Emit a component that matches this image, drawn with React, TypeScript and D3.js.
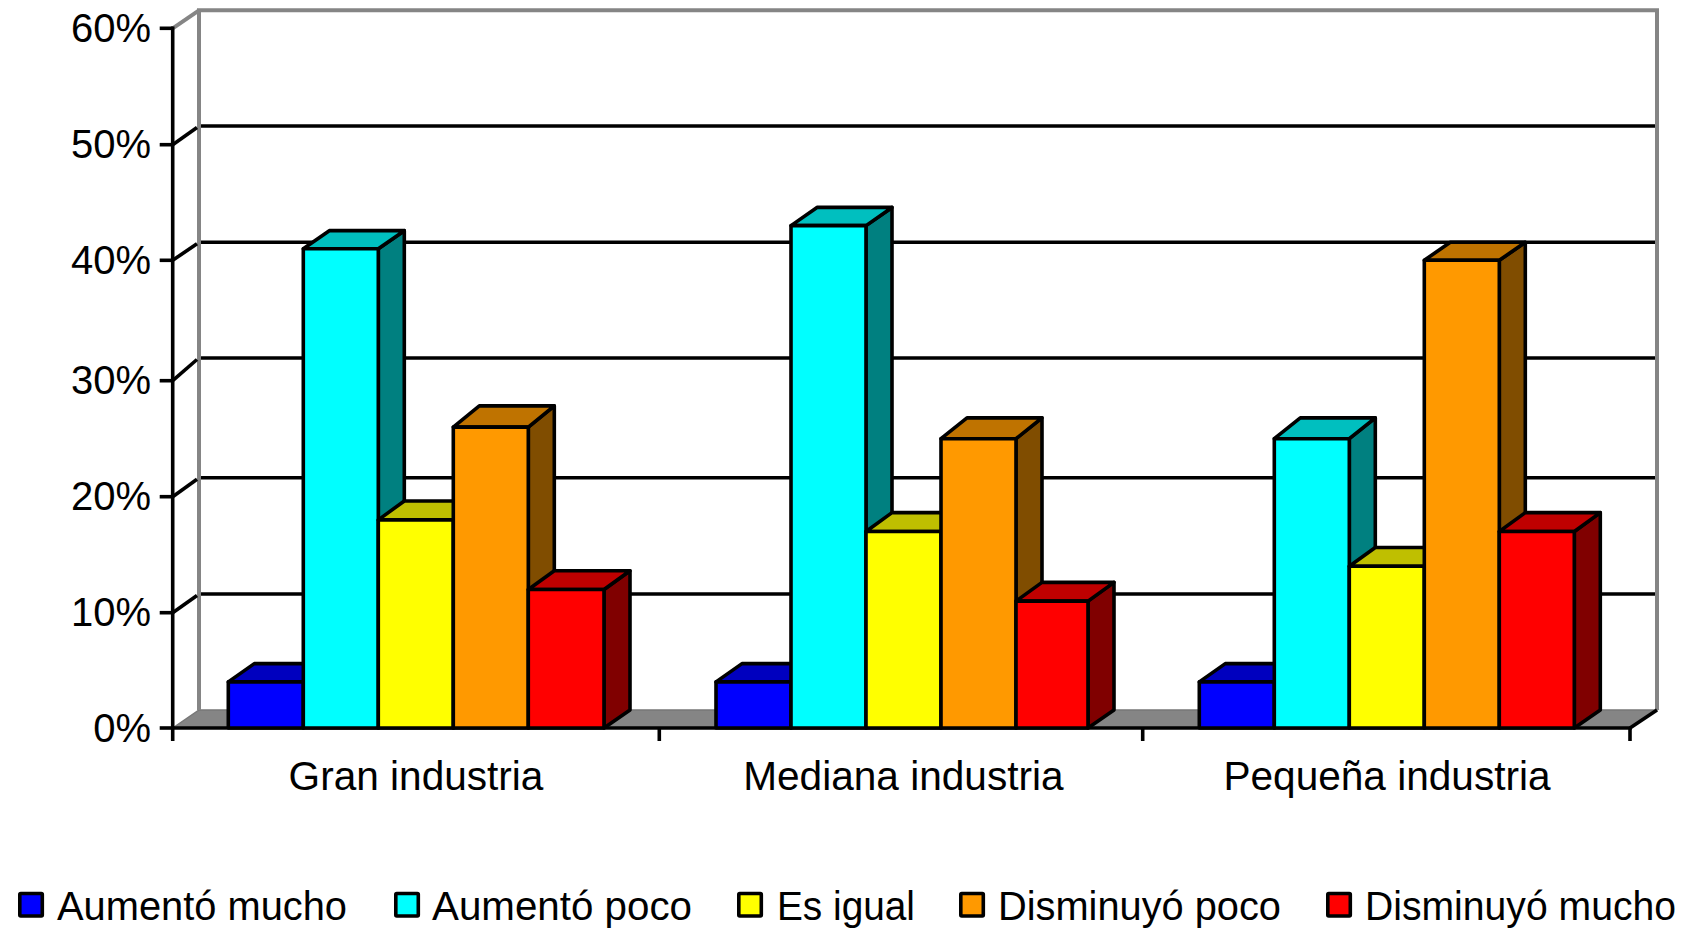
import React from "react";
import * as d3 from "d3";

const categories = ["Gran industria", "Mediana industria", "Pequeña industria"];
const seriesNames = ["Aumentó mucho", "Aumentó poco", "Es igual", "Disminuyó poco", "Disminuyó mucho"];
const aumentoMucho = [4, 4, 4];
const aumentoPoco = [41, 43, 25];
const esIgual = [18, 17, 14];
const disminuyoPoco = [26, 25, 40];
const disminuyoMucho = [12, 11, 17];
const seriesValues = [aumentoMucho, aumentoPoco, esIgual, disminuyoPoco, disminuyoMucho];
const frontColors = ["#0000ff", "#00ffff", "#ffff00", "#ff9900", "#ff0000"];
const tickValues = [0, 10, 20, 30, 40, 50, 60];

// layout
const W = 1692, H = 929;
const depthX = 26;
const x0 = 172.7, x1 = 1630;
const tickPixels = [728, 612.7, 496.7, 380.7, 260.3, 144.7, 28.3];
const gridPixels = [710, 594, 477.7, 358, 242.3, 126, 10.3];
const groupStarts = [228.3, 716, 1199.3];
const lastBarW = [75.7, 72, 75];
const barW = 75;
const axisTicksX = [659.3, 1142.7, 1630];
const categoryCenters = [416, 903.4, 1387];
const legendSwatchX = [18, 394, 737, 959, 1326];
const legendTextX = [57, 432, 777, 998, 1365];
const legendTextW = [290, 260, 138, 283, 311];

const FONT = "'Liberation Sans', Arial, sans-serif";
const GRAY = "#858585";
const SW = 3.6;

const y = d3.scaleLinear().domain(tickValues).range(tickPixels);
const yBack = d3.scaleLinear().domain(tickValues).range(gridPixels);
const groupX = d3.scaleOrdinal<string, number>().domain(categories).range(groupStarts);

const shade = (c: string, k: number) => {
  const r = d3.rgb(c);
  return d3.rgb(r.r * k, r.g * k, r.b * k).formatHex();
};
const pts = (a: number[][]) => a.map((p) => p.join(",")).join(" ");
const xBack = x0 + depthX + 0.3;
const xBackR = x1 + depthX + 1;

export default function App() {
  return (
    <svg
      width={W}
      height={H}
      viewBox={`0 0 ${W} ${H}`}
      style={{ position: "absolute", left: 0, top: 0, background: "#fff" }}
      fontFamily={FONT}
    >
      {/* floor and walls */}
      <polygon
        points={pts([[x0, y(0)], [xBack, yBack(0)], [xBackR, yBack(0)], [x1, y(0)]])}
        fill={GRAY}
        stroke="#777"
        strokeWidth={1.5}
      />
      <line x1={x0} y1={y(60)} x2={xBack} y2={yBack(60)} stroke={GRAY} strokeWidth={4} />
      <polyline
        points={pts([[xBack, yBack(0)], [xBack, yBack(60)], [xBackR, yBack(60)], [xBackR, yBack(0)]])}
        fill="none"
        stroke={GRAY}
        strokeWidth={4}
      />
      {/* gridlines */}
      {tickValues.slice(1, -1).map((t) => (
        <g key={t} stroke="#000" strokeWidth={SW}>
          <line x1={xBack + 2} x2={xBackR - 2} y1={yBack(t)} y2={yBack(t)} />
          <line x1={x0} x2={xBack - 2} y1={y(t)} y2={yBack(t) + 1.5} />
        </g>
      ))}
      <line x1={x1} y1={y(0)} x2={xBackR} y2={yBack(0)} stroke="#000" strokeWidth={SW} />
      {/* axes */}
      <line x1={x0} x2={x0} y1={y(60) - 1.8} y2={y(0) + 13} stroke="#000" strokeWidth={SW} />
      <line x1={x0} x2={x1 + 1.8} y1={y(0)} y2={y(0)} stroke="#000" strokeWidth={SW} />
      {tickValues.map((t) => (
        <g key={t}>
          <line x1={x0 - 13} x2={x0} y1={y(t)} y2={y(t)} stroke="#000" strokeWidth={SW} />
          <text x={151} y={y(t) + 13.5} textAnchor="end" fontSize={40} fill="#000">
            {t}%
          </text>
        </g>
      ))}
      {axisTicksX.map((tx) => (
        <line key={tx} x1={tx} x2={tx} y1={y(0)} y2={y(0) + 13} stroke="#000" strokeWidth={SW} />
      ))}
      {/* bars */}
      {categories.map((c, ci) => (
        <g key={c}>
          {seriesNames.map((s, si) => {
            const v = seriesValues[si][ci];
            const left = groupX(c) + si * barW;
            const right = left + (si === seriesNames.length - 1 ? lastBarW[ci] : barW);
            const top = y(v);
            const topBack = yBack(v);
            const base = y(0);
            const baseBack = yBack(0);
            const col = frontColors[si];
            return (
              <g key={s} stroke="#000" strokeWidth={SW} strokeLinejoin="round">
                <polygon
                  points={pts([[right, base], [right + depthX, baseBack], [right + depthX, topBack], [right, top]])}
                  fill={shade(col, 0.5)}
                />
                <polygon
                  points={pts([[left, top], [left + depthX, topBack], [right + depthX, topBack], [right, top]])}
                  fill={shade(col, 0.75)}
                />
                <rect x={left} y={top} width={right - left} height={base - top} fill={col} />
              </g>
            );
          })}
          <text x={categoryCenters[ci]} y={790} textAnchor="middle" fontSize={40.6} fill="#000">
            {c}
          </text>
        </g>
      ))}
      {/* legend */}
      {seriesNames.map((s, i) => (
        <g key={s}>
          <rect x={legendSwatchX[i] + 1.8} y={893.5} width={22.5} height={22.5} fill={frontColors[i]} stroke="#000" strokeWidth={SW} rx={1} />
          <text x={legendTextX[i]} y={920} fontSize={41} textLength={legendTextW[i]} lengthAdjust="spacingAndGlyphs" fill="#000">
            {s}
          </text>
        </g>
      ))}
    </svg>
  );
}
